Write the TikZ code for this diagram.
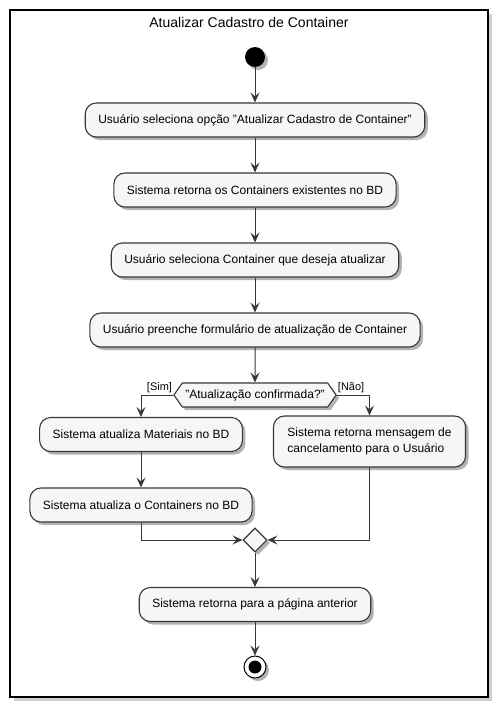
\documentclass[tikz,border=0pt]{standalone}
\usepackage{fontspec}
\setmainfont{Liberation Sans}
\usetikzlibrary{arrows.meta,shapes.geometric,shapes.symbols,shadows}
\definecolor{boxfill}{HTML}{F6F6F6}
\definecolor{linec}{HTML}{383838}
\newcommand{\dq}{\symbol{34}}
\tikzset{
  x=1pt,y=1pt,
  shad/.style={drop shadow={shadow xshift=3pt,shadow yshift=-3pt,opacity=0.3,fill=black}},
  act/.style={draw=linec,line width=1.1pt,fill=boxfill,rounded corners=11pt,
    minimum height=34pt,inner xsep=13pt,inner ysep=4pt,font=\fontsize{12}{16}\selectfont,shad},
  flow/.style={draw=linec,line width=1pt,-{Stealth[length=10pt,width=9pt,inset=4pt]}},
  lbl/.style={font=\fontsize{11}{13}\selectfont,inner sep=1pt},
}
\begin{document}
\begin{tikzpicture}
\useasboundingbox (0,0) rectangle (497,-707);
% frame
\fill[black!30,opacity=0.6] (14,-14) rectangle (492,-701);
\draw[line width=1.8pt,fill=white] (10,-10) rectangle (488,-697);
\node[font=\fontsize{14}{16}\selectfont] (title) at (249,-22) {Atualizar Cadastro de Container};
% start
\node[circle,fill=black,minimum size=20pt,inner sep=0pt,shad] (start) at (255,-57) {};
\node[act] (b1) at (255,-120) {Usuário seleciona opção \dq Atualizar Cadastro de Container\dq};
\node[act] (b2) at (255,-190) {Sistema retorna os Containers existentes no BD};
\node[act] (b3) at (255,-260) {Usuário seleciona Container que deseja atualizar};
\node[act] (b4) at (255,-330) {Usuário preenche formulário de atualização de Container};
\node[signal,signal to=west and east,signal pointer angle=110,draw=linec,line width=1.1pt,
  fill=boxfill,minimum height=24pt,inner xsep=3pt,inner ysep=2pt,
  font=\fontsize{12}{14}\selectfont,shad] (dec) at (255,-395) {\dq Atualização confirmada?\dq};
\node[act] (l1) at (141,-434.5) {Sistema atualiza Materiais no BD};
\node[act,align=left,minimum height=51pt,inner xsep=14pt] (r1) at (369.5,-441.5) {Sistema retorna mensagem de\\cancelamento para o Usuário};
\node[act] (l2) at (141,-505) {Sistema atualiza o Containers no BD};
\node[diamond,aspect=1,draw=linec,line width=1.1pt,fill=boxfill,minimum size=24pt,inner sep=0pt,shad] (merge) at (255,-540) {};
\node[act] (fin) at (255,-604.5) {Sistema retorna para a página anterior};
\node[circle,draw=black,line width=1pt,fill=white,minimum size=22pt,inner sep=0pt,shad] (endo) at (255,-667) {};
\node[circle,fill=black,minimum size=13pt,inner sep=0pt] (endi) at (endo.center) {};
% labels
\node[lbl,anchor=south east] (sim) at ([yshift=1pt]dec.west) {[Sim]};
\node[lbl,anchor=south west] (nao) at ([yshift=1pt]dec.east) {[Não]};
% connectors
\draw[flow] (start) -- (b1);
\draw[flow] (b1) -- (b2);
\draw[flow] (b2) -- (b3);
\draw[flow] (b3) -- (b4);
\draw[flow] (b4) -- (dec);
\draw[flow] (dec.west) -| (l1.north);
\draw[flow] (dec.east) -| (r1.north);
\draw[flow] (l1) -- (l2);
\draw[flow] (l2.south) |- (merge.west);
\draw[flow] (r1.south) |- (merge.east);
\draw[flow] (merge) -- (fin);
\draw[flow] (fin) -- (endo);
\end{tikzpicture}
\end{document}
